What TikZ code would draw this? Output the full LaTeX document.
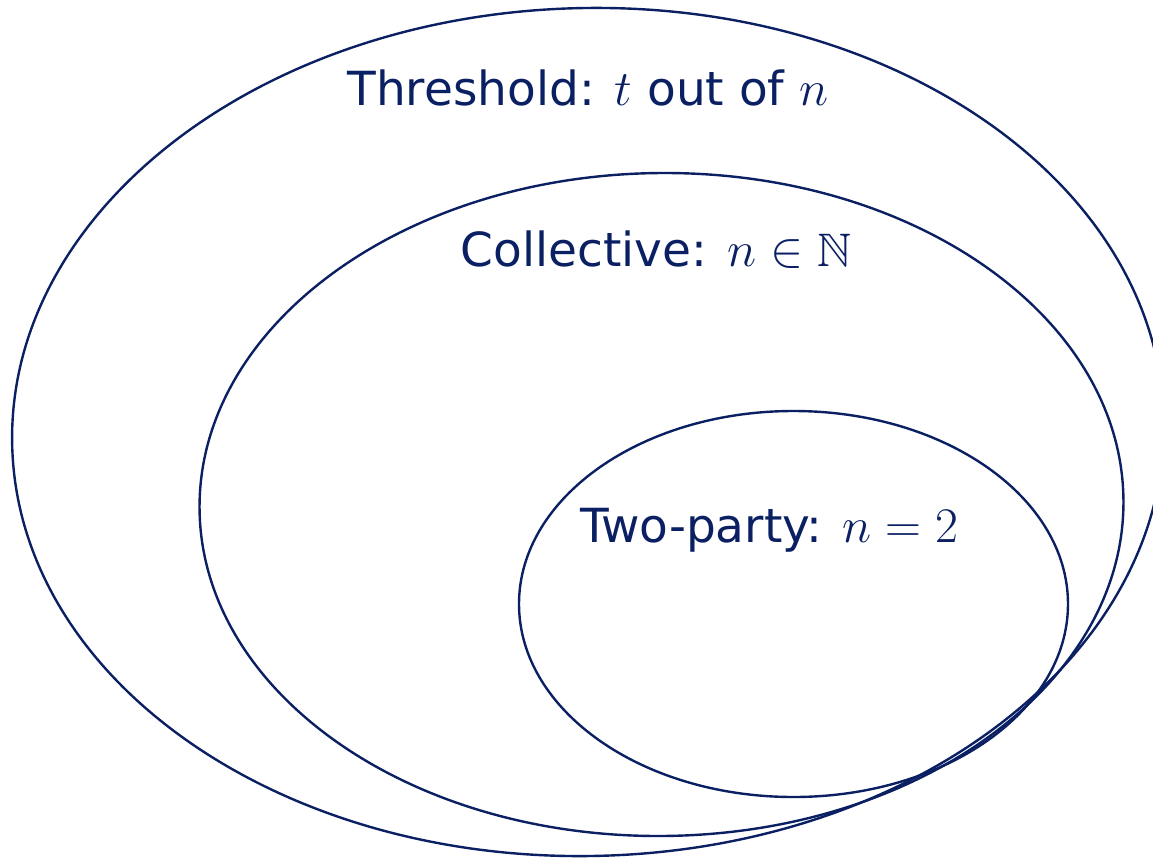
\documentclass[tikz,border=0pt]{standalone}
\usepackage{amssymb}
\usepackage{fontspec}
\setmainfont{DejaVu Sans}
\usetikzlibrary{shapes.geometric}
\definecolor{navy}{HTML}{0A2063}
\tikzset{
  setbox/.style={ellipse, draw=navy, line width=1.2pt, inner sep=0pt, outer sep=0pt},
  lbl/.style={text=navy, font=\fontsize{23.5}{28}\selectfont, inner sep=0pt, anchor=center}
}
\begin{document}
\begin{tikzpicture}[x=0.5pt,y=-0.5pt]
\useasboundingbox (0,0) rectangle (1153,858);
\clip (0,0) rectangle (1153,858);
\node[setbox, minimum width=576pt, minimum height=424pt, rotate=1.3] (outer) at (588,432) {};
\node[setbox, minimum width=462pt, minimum height=331.5pt, rotate=0.6] (middle) at (661.5,504.5) {};
\node[setbox, minimum width=274.5pt, minimum height=193pt] (inner) at (793.5,604) {};
\node[lbl] (t1) at (588,88) {Threshold: $t$ out of $n$};
\node[lbl] (t2) at (656,250) {Collective: $n\in\mathbb{N}$};
\node[lbl] (t3) at (769,530) {Two-party: $n=2$};
\end{tikzpicture}
\end{document}
